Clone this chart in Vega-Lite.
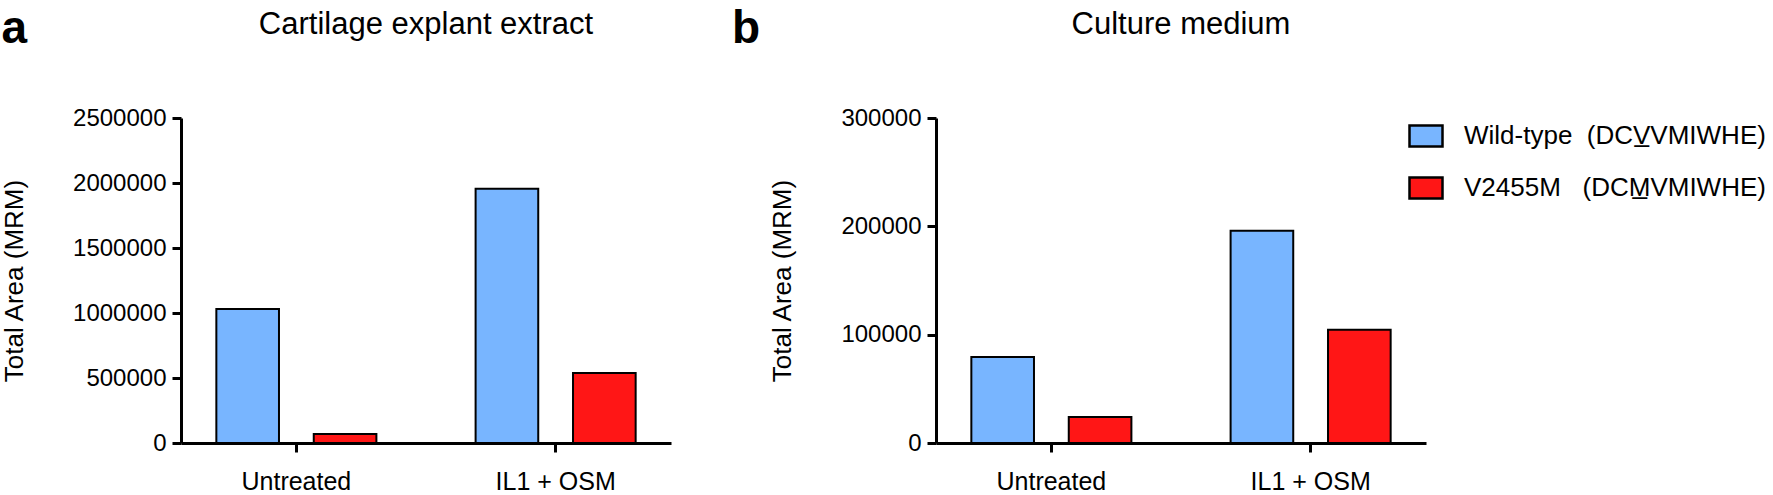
{
  "$schema": "https://vega.github.io/schema/vega-lite/v6.json",
  "padding": {"left": 1, "top": 6, "right": 0, "bottom": 0},
  "config": {
    "font": "Liberation Sans",
    "view": {"stroke": null},
    "axis": {
      "domainColor": "black", "domainWidth": 3,
      "tickColor": "black", "tickWidth": 3, "tickSize": 9,
      "labelColor": "black", "titleColor": "black", "grid": false,
      "labelFont": "Liberation Sans", "titleFont": "Liberation Sans", "titleFontWeight": "normal"
    },
    "title": {"font": "Liberation Sans", "color": "black"},
    "legend": {
      "labelFont": "Liberation Sans", "labelColor": "black", "labelFontSize": 26, "labelLimit": 0
    }
  },
  "datasets": {
    "a": [
      {"treatment": "Untreated", "genotype": "Wild-type", "area": 1031000},
      {"treatment": "Untreated", "genotype": "V2455M", "area": 70000},
      {"treatment": "IL1 + OSM", "genotype": "Wild-type", "area": 1955000},
      {"treatment": "IL1 + OSM", "genotype": "V2455M", "area": 538000}
    ],
    "b": [
      {"treatment": "Untreated", "genotype": "Wild-type", "area": 79500},
      {"treatment": "Untreated", "genotype": "V2455M", "area": 24000},
      {"treatment": "IL1 + OSM", "genotype": "Wild-type", "area": 196000},
      {"treatment": "IL1 + OSM", "genotype": "V2455M", "area": 104500}
    ]
  },
  "spacing": 60,
  "resolve": {"scale": {"x": "independent", "y": "independent", "xOffset": "independent"}},
  "hconcat": [
    {
      "title": {"text": "a", "anchor": "start", "frame": "bounds", "fontSize": 46, "fontWeight": "bold", "offset": 0, "dy": 44, "dx": 0},
      "hconcat": [
        {
          "data": {"name": "a"},
          "width": 490, "height": 325,
          "title": {"text": "Cartilage explant extract", "fontSize": 31, "fontWeight": "normal", "offset": 65},
          "mark": {"type": "bar", "stroke": "black", "strokeWidth": 2},
          "encoding": {
            "x": {"field": "treatment", "type": "nominal", "sort": ["Untreated", "IL1 + OSM"],
                  "scale": {"paddingInner": 0.3, "paddingOuter": 0.095},
                  "axis": {"title": null, "labelAngle": 0, "labelFontSize": 25, "labelPadding": 17}},
            "xOffset": {"field": "genotype", "type": "nominal", "sort": ["Wild-type", "V2455M"],
                        "scale": {"paddingInner": 0.357, "paddingOuter": 0.11}},
            "y": {"field": "area", "type": "quantitative", "scale": {"domain": [0, 2500000]},
                  "axis": {"values": [0, 500000, 1000000, 1500000, 2000000, 2500000], "format": "d",
                           "title": "Total Area (MRM)", "labelFontSize": 24, "titleFontSize": 26, "titlePadding": 45, "labelPadding": 6}},
            "color": {"field": "genotype", "type": "nominal",
                      "scale": {"domain": ["Wild-type", "V2455M"], "range": ["#78B5FF", "#FF1616"]},
                      "legend": {"title": null, "orient": "right", "offset": -18, "padding": 0, "rowPadding": 18,
                                 "symbolType": "M-1,-0.636L1,-0.636L1,0.636L-1,0.636Z", "symbolSize": 1089,
                                 "symbolStrokeColor": "black", "symbolStrokeWidth": 2.5, "symbolOpacity": 1,
                                 "labelOffset": 20,
                                 "labelExpr": "datum.label == 'Wild-type' ? 'Wild-type\u00a0\u00a0(DCV\u0332VMIWHE)' : 'V2455M\u00a0\u00a0\u00a0(DCM\u0332VMIWHE)'"}}
          }
        }
      ]
    },
    {
      "title": {"text": "b", "anchor": "start", "frame": "bounds", "fontSize": 46, "fontWeight": "bold", "offset": 0, "dy": 44, "dx": -38},
      "hconcat": [
        {
          "data": {"name": "b"},
          "width": 490, "height": 325,
          "title": {"text": "Culture medium", "fontSize": 31, "fontWeight": "normal", "offset": 65},
          "mark": {"type": "bar", "stroke": "black", "strokeWidth": 2},
          "encoding": {
            "x": {"field": "treatment", "type": "nominal", "sort": ["Untreated", "IL1 + OSM"],
                  "scale": {"paddingInner": 0.3, "paddingOuter": 0.095},
                  "axis": {"title": null, "labelAngle": 0, "labelFontSize": 25, "labelPadding": 17}},
            "xOffset": {"field": "genotype", "type": "nominal", "sort": ["Wild-type", "V2455M"],
                        "scale": {"paddingInner": 0.357, "paddingOuter": 0.11}},
            "y": {"field": "area", "type": "quantitative", "scale": {"domain": [0, 300000]},
                  "axis": {"values": [0, 100000, 200000, 300000], "format": "d",
                           "title": "Total Area (MRM)", "labelFontSize": 24, "titleFontSize": 26, "titlePadding": 45, "labelPadding": 6}},
            "color": {"field": "genotype", "type": "nominal",
                      "scale": {"domain": ["Wild-type", "V2455M"], "range": ["#78B5FF", "#FF1616"]}}
          }
        }
      ]
    }
  ]
}
